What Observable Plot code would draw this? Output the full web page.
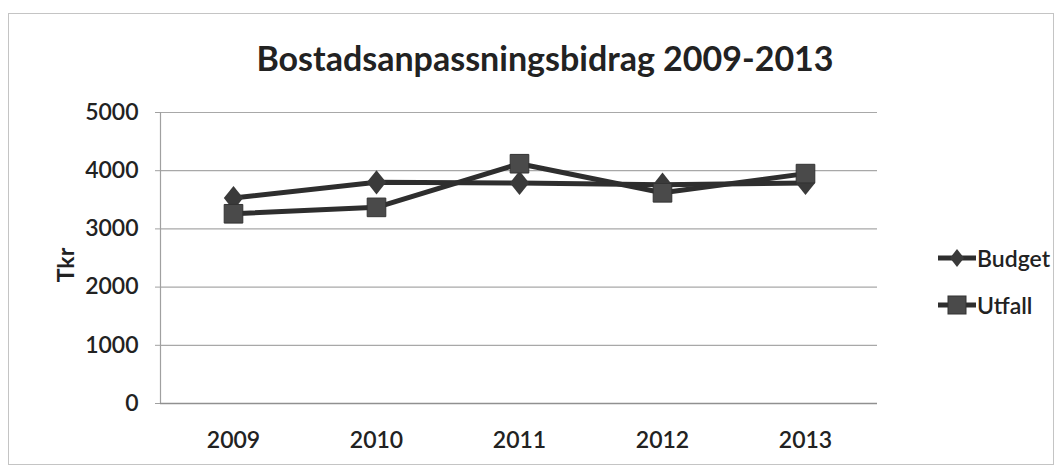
<!DOCTYPE html>
<html>
<head>
<meta charset="utf-8">
<script src="https://cdn.jsdelivr.net/npm/d3@7"></script>
<script src="https://cdn.jsdelivr.net/npm/@observablehq/plot@0.6"></script>
<style>
  html, body { margin: 0; padding: 0; background: #fff; }
  #wrap { position: relative; width: 1063px; height: 471px; overflow: hidden; font-family: Lato, "Open Sans", sans-serif; color: #222; }
  #frame { position: absolute; left: 8px; top: 13px; width: 1046px; height: 452px; border: 1px solid #c4c4c4; box-sizing: border-box; pointer-events: none; }
  #title { position: absolute; left: 0; width: 1090px; top: 37px; text-align: center; font-size: 34px; font-weight: bold; color: #222; }
  #ylabel { position: absolute; left: 65px; top: 265px; transform: translate(-50%, -50%) rotate(-90deg); font-size: 23px; font-weight: bold; color: #222; }
  .leg { position: absolute; left: 938px; display: flex; align-items: center; font-size: 23px; font-weight: 600; color: #222; }
  .leg svg { margin-right: 1px; }
  #chart { position: absolute; left: 0; top: 0; }
</style>
</head>
<body>
<div id="wrap">
  <div id="chart"></div>
  <div id="frame"></div>
  <div id="title"></div>
  <div id="ylabel">Tkr</div>
  <div id="legend"></div>
</div>
<script>
const years = ["2009", "2010", "2011", "2012", "2013"];
const budget = [3530, 3800, 3790, 3760, 3790];
const utfall = [3260, 3370, 4120, 3620, 3950];
const yTicks = [0, 1000, 2000, 3000, 4000, 5000];
const seriesNames = ["Budget", "Utfall"];
const titleText = "Bostadsanpassningsbidrag 2009-2013";

const ink = "#2e2e2e";

// Excel-like diamond (slightly taller than wide)
const excelDiamond = {
  draw(context, size) {
    const h = Math.sqrt(size) * 0.62, w = h * 0.8;
    context.moveTo(0, -h);
    context.lineTo(w, 0);
    context.lineTo(0, h);
    context.lineTo(-w, 0);
    context.closePath();
  }
};

const rows = [];
years.forEach((y, i) => {
  rows.push({year: y, value: budget[i], series: seriesNames[0]});
  rows.push({year: y, value: utfall[i], series: seriesNames[1]});
});
const bRows = rows.filter(d => d.series === "Budget");
const uRows = rows.filter(d => d.series === "Utfall");

const plot = Plot.plot({
  width: 1063,
  height: 471,
  marginTop: 112,
  marginBottom: 68,
  marginLeft: 160,
  marginRight: 186,
  style: { fontFamily: "Lato, 'Open Sans', sans-serif", fontSize: "23px", color: "#222", background: "transparent" },
  x: { type: "point", domain: years, padding: 0.5, label: null },
  y: { domain: [0, 5000], label: null },
  marks: [
    Plot.gridY(yTicks, { stroke: "#a8a8a8", strokeOpacity: 1, strokeWidth: 1.2 }),
    Plot.frame({ anchor: "left", stroke: "#a0a0a0", strokeWidth: 1.2 }),
    Plot.ruleY([0], { stroke: "#909090", strokeWidth: 1.5 }),
    Plot.axisY(yTicks, { tickSize: 5, tickPadding: 17, stroke: "#a0a0a0", fill: "#222", fontWeight: 600, tickFormat: d => String(d), label: null }),
    Plot.axisX(years, { tickSize: 0, tickPadding: 28, fill: "#222", fontWeight: 600, label: null }),
    Plot.line(uRows, { x: "year", y: "value", stroke: ink, strokeWidth: 5 }),
    Plot.line(bRows, { x: "year", y: "value", stroke: ink, strokeWidth: 5 }),
    Plot.dot(bRows, { x: "year", y: "value", symbol: excelDiamond, r: 11, fill: "#3a3a3a", stroke: "none" }),
    Plot.dot(uRows, { x: "year", y: "value", symbol: "square", r: 10.5, fill: "#4a4a4a", stroke: "#333", strokeWidth: 1 })
  ]
});
document.getElementById("chart").appendChild(plot);
document.getElementById("title").textContent = titleText;

// legend
const legend = document.getElementById("legend");
const legTops = [258, 305];
seriesNames.forEach((name, i) => {
  const item = document.createElement("div");
  item.className = "leg";
  item.style.top = (legTops[i] - 14) + "px";
  const svg = d3.create("svg").attr("width", 38).attr("height", 28);
  svg.append("line").attr("x1", 0).attr("x2", 38).attr("y1", 14).attr("y2", 14).attr("stroke", ink).attr("stroke-width", 5);
  if (i === 0) {
    svg.append("path").attr("d", "M19,5 L26,14 L19,23 L12,14 Z").attr("fill", "#3a3a3a");
  } else {
    svg.append("rect").attr("x", 10).attr("y", 5).attr("width", 18).attr("height", 18).attr("fill", "#4a4a4a").attr("stroke", "#333");
  }
  item.appendChild(svg.node());
  const t = document.createElement("span");
  t.textContent = name;
  item.appendChild(t);
  legend.appendChild(item);
});
</script>
</body>
</html>
